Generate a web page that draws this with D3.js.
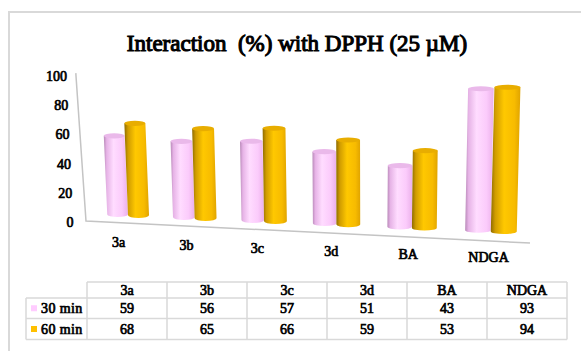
<!DOCTYPE html>
<html>
<head>
<meta charset="utf-8">
<script src="https://cdn.jsdelivr.net/npm/d3@7/dist/d3.min.js"></script>
<style>
  html, body { margin: 0; padding: 0; background: #ffffff; }
  svg { display: block; }
  /* serif text, emboldened with a thin outline */
  svg text { font-family: "Liberation Serif", "Times New Roman", serif; font-weight: normal; fill: #000; stroke: #000; stroke-width: 0.7px; }
</style>
</head>
<body>
<svg id="chart" width="581" height="351"></svg>
<script>
// ---- data ----
const title = "Interaction\u00a0 (%) with DPPH (25 \u00b5M)";
const categories = ["3a", "3b", "3c", "3d", "BA", "NDGA"];
const seriesNames = ["30 min", "60 min"];
const min30 = [59, 56, 57, 51, 43, 93];
const min60 = [68, 65, 66, 59, 53, 94];
const yTicks = [0, 20, 40, 60, 80, 100];

const seriesValues = [min30, min60];
const seriesColors = ["#ffccff", "#ffc000"];

const svg = d3.select("#chart");
const W = 581, H = 351;

// ---- chart frame ----
svg.append("path")
  .attr("d", `M9,${H + 2} L9,12 L${W + 2},12`)
  .attr("fill", "none").attr("stroke", "#d9d9d9").attr("stroke-width", 2);

// ---- title ----
svg.append("text")
  .attr("x", 297).attr("y", 51)
  .attr("text-anchor", "middle")
  .attr("font-size", 23)
  .style("stroke-width", "1.1px")
  .text(title);

// ---- perspective helpers ----
// category position along the floor (u) -> screen x, with foreshortening
const persp = 0.02;
const uScale = d3.scalePoint().domain(categories).range([0, 5]);
const projX = d3.scaleLinear().domain([0, 1]).range([128, 128 + 65.3]);
const sx = u => projX(u / (1 - persp * u));
const depthGain = u => 1 / (1 - persp * u);
// value -> height in px at the nearest depth
const hScale = d3.scaleLinear().domain([0, 100]).range([0, 142.5]);
// floor line under the bars (screen x -> y of bar bottoms)
const floorY = d3.scaleLinear().domain([117, 504]).range([217, 234]);
// vertical lean from the perspective
const lean = (x, h) => (x - 360) * h * 0.00017;

// ---- wall axis (values) ----
const yScale = d3.scaleLinear().domain([0, 100]).range([222, 76]);
const axisX = d3.scaleLinear().domain([0, 100]).range([86, 76]);
const labelRight = d3.scaleLinear().domain([0, 100]).range([73.5, 67]);

svg.append("path")
  .attr("d", `M${axisX(102)},${yScale(102)} L${axisX(0)},${yScale(0) - 1} L530,243`)
  .attr("fill", "none").attr("stroke", "#c4c4c4").attr("stroke-width", 1.5);

svg.append("g").selectAll("text")
  .data(yTicks)
  .join("text")
  .attr("x", d => labelRight(d))
  .attr("y", d => yScale(d) + 5)
  .attr("text-anchor", "end")
  .attr("font-size", 14)
  .text(d => d);

// ---- gradients for the cylinders ----
const defs = svg.append("defs");
const gradStops = [
  [[0, "#b98ab9"], [0.12, "#e6b3e6"], [0.4, "#ffdcff"], [0.75, "#fbcbfb"], [1, "#eab0ea"]],
  [[0, "#8f6c00"], [0.15, "#d09c00"], [0.45, "#ffc800"], [0.8, "#f7bb00"], [1, "#e0a400"]]
];
gradStops.forEach((stops, si) => {
  const g = defs.append("linearGradient")
    .attr("id", "cyl" + si)
    .attr("x1", 0).attr("x2", 1).attr("y1", 0).attr("y2", 0);
  stops.forEach(([o, c]) => g.append("stop").attr("offset", o).attr("stop-color", c));
});
const topColors = ["#eab9ea", "#e8ad00"];

// ---- cylinders ----
const barWidthU = 0.32;
const ry = 2.6;
const bars = [];
categories.forEach((cat, ci) => {
  const uc = uScale(cat);
  seriesValues.forEach((vals, si) => {
    const u0 = uc + (si - 1) * barWidthU;
    const u1 = u0 + barWidthU;
    bars.push({ cat, si, v: vals[ci], u0, u1, um: (u0 + u1) / 2 });
  });
});

const barG = svg.append("g");
bars.forEach(b => {
  const xl = sx(b.u0), xr = sx(b.u1);
  const xm = (xl + xr) / 2, rx = (xr - xl) / 2;
  const bottom = floorY(xm);
  const h = hScale(b.v) * depthGain(b.um);
  const dx = lean(xm, h);
  const yb = bottom - ry;          // centre of bottom ellipse
  const yt = bottom - h + ry;      // centre of top ellipse
  const g = barG.append("g");
  g.append("path")
    .attr("d", `M${xl},${yb} L${xl + dx},${yt} L${xr + dx},${yt} L${xr},${yb} ` +
               `A${rx},${ry} 0 0 1 ${xl},${yb} Z`)
    .attr("fill", `url(#cyl${b.si})`);
  g.append("ellipse")
    .attr("cx", xm + dx).attr("cy", yt)
    .attr("rx", rx).attr("ry", ry)
    .attr("fill", topColors[b.si]);
});

// ---- category labels on the floor ----
const catX = d => { const x = sx(uScale(d)); return x - 6 + (x - 300) * 0.02; };
const catLabelY = d3.scaleLinear().domain([119, 487]).range([247, 262]);
svg.append("g").selectAll("text")
  .data(categories)
  .join("text")
  .attr("x", d => catX(d))
  .attr("y", d => catLabelY(catX(d)))
  .attr("text-anchor", "middle")
  .attr("font-size", 14)
  .text(d => d);

// ---- data table ----
const colScale = d3.scaleBand().domain(categories).range([87, 567]);
const rowTops = [282, 298, 318.5, 339.5];
const tableLeft = 26;
const tbl = svg.append("g");
const lineColor = "#d9d9d9";

// horizontal lines
tbl.append("line").attr("x1", 87).attr("x2", 567).attr("y1", rowTops[0]).attr("y2", rowTops[0]);
rowTops.slice(1).forEach(y =>
  tbl.append("line").attr("x1", tableLeft).attr("x2", 567).attr("y1", y).attr("y2", y));
// vertical lines
tbl.append("line").attr("x1", tableLeft).attr("x2", tableLeft).attr("y1", rowTops[1]).attr("y2", rowTops[3]);
categories.forEach(c =>
  tbl.append("line").attr("x1", colScale(c)).attr("x2", colScale(c)).attr("y1", rowTops[0]).attr("y2", rowTops[3]));
tbl.append("line").attr("x1", 567).attr("x2", 567).attr("y1", rowTops[0]).attr("y2", rowTops[3]);
tbl.selectAll("line").attr("stroke", lineColor).attr("stroke-width", 1.5);

// header
tbl.append("g").selectAll("text")
  .data(categories)
  .join("text")
  .attr("x", d => colScale(d) + colScale.bandwidth() / 2)
  .attr("y", (rowTops[0] + rowTops[1]) / 2 + 5)
  .attr("text-anchor", "middle")
  .attr("font-size", 14)
  .text(d => d);

// rows
seriesValues.forEach((vals, si) => {
  const cy = (rowTops[si + 1] + rowTops[si + 2]) / 2;
  tbl.append("rect")
    .attr("x", 31).attr("y", cy - 3).attr("width", 6).attr("height", 6)
    .attr("fill", seriesColors[si]);
  tbl.append("text")
    .attr("x", 41).attr("y", cy + 5)
    .attr("font-size", 14)
    .attr("letter-spacing", 0.4)
    .text(seriesNames[si]);
  tbl.append("g").selectAll("text")
    .data(vals)
    .join("text")
    .attr("x", (d, i) => colScale(categories[i]) + colScale.bandwidth() / 2)
    .attr("y", cy + 5)
    .attr("text-anchor", "middle")
    .attr("font-size", 14)
    .text(d => d);
});
</script>
</body>
</html>
